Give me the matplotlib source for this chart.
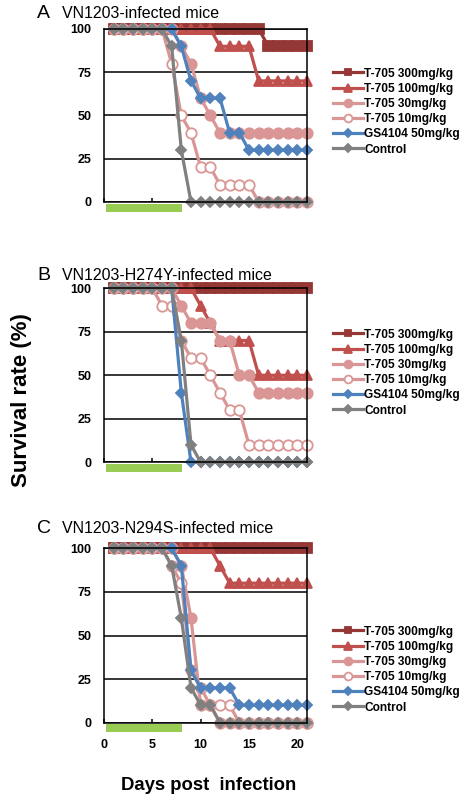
import numpy as np
import matplotlib
matplotlib.use("Agg")
import matplotlib.pyplot as plt
from matplotlib.patches import Rectangle

plt.rcParams["font.family"] = ["Liberation Sans", "DejaVu Sans"]

days = list(range(1, 22))

labels = ["T-705 300mg/kg", "T-705 100mg/kg", "T-705 30mg/kg",
          "T-705 10mg/kg", "GS4104 50mg/kg", "Control"]

# panel A: VN1203
a_300 = [100, 100, 100, 100, 100, 100, 100, 100, 100, 100, 100, 100, 100, 100, 100, 100, 90, 90, 90, 90, 90]
a_100 = [100, 100, 100, 100, 100, 100, 100, 100, 100, 100, 100, 90, 90, 90, 90, 70, 70, 70, 70, 70, 70]
a_30 = [100, 100, 100, 100, 100, 100, 100, 90, 80, 60, 50, 40, 40, 40, 40, 40, 40, 40, 40, 40, 40]
a_10 = [100, 100, 100, 100, 100, 100, 80, 50, 40, 20, 20, 10, 10, 10, 10, 0, 0, 0, 0, 0, 0]
a_gs = [100, 100, 100, 100, 100, 100, 100, 90, 70, 60, 60, 60, 40, 40, 30, 30, 30, 30, 30, 30, 30]
a_ctrl = [100, 100, 100, 100, 100, 100, 90, 30, 0, 0, 0, 0, 0, 0, 0, 0, 0, 0, 0, 0, 0]

# panel B: VN1203-H274Y
b_300 = [100, 100, 100, 100, 100, 100, 100, 100, 100, 100, 100, 100, 100, 100, 100, 100, 100, 100, 100, 100, 100]
b_100 = [100, 100, 100, 100, 100, 100, 100, 100, 100, 90, 80, 70, 70, 70, 70, 50, 50, 50, 50, 50, 50]
b_30 = [100, 100, 100, 100, 100, 100, 100, 90, 80, 80, 80, 70, 70, 50, 50, 40, 40, 40, 40, 40, 40]
b_10 = [100, 100, 100, 100, 100, 90, 90, 70, 60, 60, 50, 40, 30, 30, 10, 10, 10, 10, 10, 10, 10]
b_gs = [100, 100, 100, 100, 100, 100, 100, 40, 0, 0, 0, 0, 0, 0, 0, 0, 0, 0, 0, 0, 0]
b_ctrl = [100, 100, 100, 100, 100, 100, 100, 70, 10, 0, 0, 0, 0, 0, 0, 0, 0, 0, 0, 0, 0]

# panel C: VN1203-N294S
c_300 = [100, 100, 100, 100, 100, 100, 100, 100, 100, 100, 100, 100, 100, 100, 100, 100, 100, 100, 100, 100, 100]
c_100 = [100, 100, 100, 100, 100, 100, 100, 100, 100, 100, 100, 90, 80, 80, 80, 80, 80, 80, 80, 80, 80]
c_30 = [100, 100, 100, 100, 100, 100, 100, 90, 60, 10, 10, 0, 0, 0, 0, 0, 0, 0, 0, 0, 0]
c_10 = [100, 100, 100, 100, 100, 100, 90, 80, 30, 20, 10, 10, 10, 0, 0, 0, 0, 0, 0, 0, 0]
c_gs = [100, 100, 100, 100, 100, 100, 100, 90, 30, 20, 20, 20, 20, 10, 10, 10, 10, 10, 10, 10, 10]
c_ctrl = [100, 100, 100, 100, 100, 100, 90, 60, 20, 10, 10, 0, 0, 0, 0, 0, 0, 0, 0, 0, 0]

panels = [
    ("A", "VN1203-infected mice", [a_300, a_100, a_30, a_10, a_gs, a_ctrl]),
    ("B", "VN1203-H274Y-infected mice", [b_300, b_100, b_30, b_10, b_gs, b_ctrl]),
    ("C", "VN1203-N294S-infected mice", [c_300, c_100, c_30, c_10, c_gs, c_ctrl]),
]

# treatment period (green bar under the axis)
treat_start, treat_end = 0.2, 8.1

styles = [
    dict(color="#953735", marker="s", ms=6.5, mfc="#953735"),
    dict(color="#C0504D", marker="^", ms=7.5, mfc="#C0504D"),
    dict(color="#D99694", marker="o", ms=7.5, mfc="#D99694"),
    dict(color="#D99694", marker="o", ms=7.5, mfc="white"),
    dict(color="#4F81BD", marker="D", ms=5.5, mfc="#4F81BD"),
    dict(color="#808080", marker="D", ms=5.5, mfc="#808080"),
]

W, H = 468, 797
fig = plt.figure(figsize=(W / 100, H / 100), dpi=100)

# pixel boxes: (top, bottom) of each plot area, legend first row, title baseline
tops = [29, 288.3, 548.3]
bottoms = [202, 462.3, 722.7]
legend_y = [72, 333, 630]
title_y = [18, 280, 533]
left, right = 104, 307

for i, (letter, title, series) in enumerate(panels):
    ax = fig.add_axes([left / W, 1 - bottoms[i] / H, (right - left) / W,
                       (bottoms[i] - tops[i]) / H])
    for vals, lab, st in zip(series, labels, styles):
        ax.plot(days, vals, lw=2.3, mec=st["color"], mew=1.3, clip_on=False,
                label=lab, **st)
    ax.set_xlim(0, 21)
    ax.set_ylim(0, 100)
    ax.set_yticks([0, 25, 50, 75, 100])
    ax.set_xticks([0, 5, 10, 15, 20])
    ax.grid(axis="y", color="black", lw=1.1)
    ax.set_axisbelow(True)
    for s in ax.spines.values():
        s.set_linewidth(1.1)
    ax.tick_params(axis="y", length=0, pad=9, labelsize=9)
    ax.tick_params(axis="x", direction="in", length=3, width=1.1, pad=12, labelsize=9)
    for t in ax.get_yticklabels() + ax.get_xticklabels():
        t.set_fontweight("bold")
    if i < 2:
        ax.set_xticklabels([])

    ax.add_patch(Rectangle((treat_start, -5.5), treat_end - treat_start, 4.5,
                           facecolor="#99CC55", edgecolor="none", clip_on=False))

    fig.text(37 / W, 1 - title_y[i] / H, letter, fontsize=14, va="baseline")
    fig.text(62 / W, 1 - title_y[i] / H, title, fontsize=11.5, va="baseline")

    leg = ax.legend(loc="upper left", bbox_to_anchor=(333 / W, 1 - (legend_y[i] - 4.5) / H),
                    bbox_transform=fig.transFigure, frameon=False, fontsize=8.6,
                    handlelength=2.5, handletextpad=0.1, labelspacing=0.27,
                    borderpad=0, borderaxespad=0, markerscale=0.75)
    for t in leg.get_texts():
        t.set_fontweight("bold")

fig.text(22 / W, 1 - 400 / H, "Survival rate (%)", rotation=90, fontsize=16,
         fontweight="bold", ha="center", va="center")
fig.text(209 / W, 1 - 785 / H, "Days post  infection", fontsize=13.3,
         fontweight="bold", ha="center", va="center")

fig.savefig("out.png", dpi=100)
